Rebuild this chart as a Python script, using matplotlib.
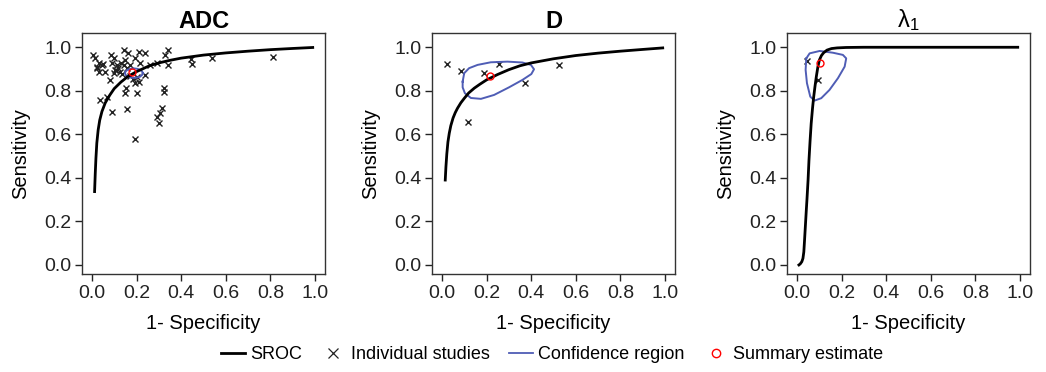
import numpy as np
import matplotlib
matplotlib.use('Agg')
import matplotlib.pyplot as plt
from matplotlib.lines import Line2D

plt.rcParams['font.family'] = ['Liberation Sans', 'DejaVu Sans']

# ---- data ----
titles = ['ADC', 'D', r'$\mathregular{\lambda_1}$']

# SROC curves
adc_sroc_x = [0.012, 0.015, 0.018, 0.022, 0.028, 0.035, 0.045, 0.06, 0.08, 0.10, 0.13, 0.16, 0.20,
              0.26, 0.30, 0.35, 0.40, 0.45, 0.50, 0.60, 0.70, 0.80, 0.90, 0.99]
adc_sroc_y = [0.337, 0.42, 0.49, 0.56, 0.62, 0.665, 0.705, 0.745, 0.78, 0.81, 0.84, 0.865, 0.888,
              0.916, 0.928, 0.94, 0.95, 0.957, 0.964, 0.974, 0.982, 0.989, 0.9945, 0.999]
d_sroc_x = [0.015, 0.018, 0.022, 0.027, 0.033, 0.04, 0.05, 0.06, 0.07, 0.085, 0.10, 0.12, 0.145,
            0.17, 0.20, 0.25, 0.30, 0.35, 0.40, 0.50, 0.60, 0.70, 0.80, 0.90, 0.99]
d_sroc_y = [0.39, 0.45, 0.51, 0.565, 0.605, 0.64, 0.675, 0.70, 0.72, 0.745, 0.765, 0.79, 0.812,
            0.83, 0.85, 0.875, 0.897, 0.915, 0.928, 0.947, 0.962, 0.973, 0.982, 0.99, 0.997]
l1_sroc_x = [0.009, 0.015, 0.022, 0.027, 0.031, 0.034, 0.038, 0.042, 0.045, 0.05, 0.054, 0.059,
             0.064, 0.07, 0.075, 0.081, 0.087, 0.094, 0.101, 0.11, 0.12, 0.135, 0.155, 0.18, 0.22,
             0.30, 0.50, 0.99]
l1_sroc_y = [0.0, 0.005, 0.015, 0.03, 0.06, 0.11, 0.18, 0.25, 0.30, 0.39, 0.48, 0.57,
             0.65, 0.72, 0.77, 0.82, 0.865, 0.91, 0.942, 0.962, 0.975, 0.987, 0.994, 0.997, 0.999,
             1.0, 1.0, 1.0]

# individual studies (1-specificity, sensitivity)
adc_fpr = [0.003, 0.015, 0.030, 0.022, 0.030, 0.049, 0.060, 0.079, 0.037, 0.067, 0.090, 0.085,
           0.097, 0.090, 0.112, 0.119, 0.104, 0.127, 0.142, 0.164, 0.149, 0.142, 0.157, 0.209,
           0.239, 0.194, 0.216, 0.239, 0.209, 0.194, 0.186, 0.154, 0.149, 0.157, 0.204, 0.194,
           0.261, 0.291, 0.328, 0.339, 0.339, 0.321, 0.324, 0.313, 0.306, 0.294, 0.303, 0.443,
           0.448, 0.539, 0.810, 0.134, 0.169, 0.201, 0.109, 0.097, 0.025, 0.045, 0.172, 0.130]
adc_tpr = [0.965, 0.949, 0.929, 0.903, 0.888, 0.923, 0.888, 0.850, 0.758, 0.770, 0.704, 0.965,
           0.949, 0.926, 0.919, 0.903, 0.896, 0.888, 0.988, 0.972, 0.942, 0.919, 0.903, 0.980,
           0.972, 0.949, 0.926, 0.873, 0.842, 0.835, 0.853, 0.812, 0.792, 0.715, 0.789, 0.579,
           0.919, 0.926, 0.965, 0.988, 0.919, 0.812, 0.796, 0.720, 0.697, 0.678, 0.651, 0.945,
           0.922, 0.949, 0.954, 0.877, 0.868, 0.862, 0.896, 0.881, 0.911, 0.919, 0.919, 0.927]
d_fpr = [0.025, 0.085, 0.190, 0.257, 0.118, 0.372, 0.525]
d_tpr = [0.922, 0.891, 0.881, 0.923, 0.658, 0.838, 0.919]
l1_fpr = [0.046, 0.094]
l1_tpr = [0.939, 0.850]

# summary estimates
summary_fpr = [0.179, 0.215, 0.102]
summary_tpr = [0.888, 0.868, 0.926]

# confidence regions (closed contours)
adc_cr_x = [0.228, 0.225, 0.216, 0.203, 0.188, 0.173, 0.160, 0.151, 0.148, 0.151, 0.160, 0.173,
            0.188, 0.203, 0.216, 0.225]
adc_cr_y = [0.881, 0.889, 0.897, 0.901, 0.903, 0.901, 0.897, 0.889, 0.881, 0.873, 0.865, 0.861,
            0.859, 0.861, 0.865, 0.873]
d_cr_x = [0.093, 0.100, 0.122, 0.160, 0.219, 0.294, 0.361, 0.399, 0.413, 0.401, 0.361, 0.301,
          0.234, 0.175, 0.130, 0.103, 0.093]
d_cr_y = [0.842, 0.881, 0.904, 0.919, 0.931, 0.934, 0.930, 0.919, 0.899, 0.877, 0.850, 0.816,
          0.781, 0.763, 0.767, 0.789, 0.816]
l1_cr_x = [0.042, 0.057, 0.102, 0.161, 0.206, 0.221, 0.214, 0.184, 0.146, 0.109, 0.079, 0.060,
           0.045, 0.039]
l1_cr_y = [0.949, 0.972, 0.983, 0.975, 0.965, 0.949, 0.911, 0.858, 0.804, 0.766, 0.755, 0.773,
           0.835, 0.896]

ticks = [0.0, 0.2, 0.4, 0.6, 0.8, 1.0]

panels = [
    (adc_sroc_x, adc_sroc_y, adc_fpr, adc_tpr, adc_cr_x, adc_cr_y),
    (d_sroc_x, d_sroc_y, d_fpr, d_tpr, d_cr_x, d_cr_y),
    (l1_sroc_x, l1_sroc_y, l1_fpr, l1_tpr, l1_cr_x, l1_cr_y),
]

blue = '#4f5db5'
fig = plt.figure(figsize=(10.46, 3.72), dpi=100)
lefts = [0.0787, 0.4133, 0.7527]

for i, (sx, sy, fx, fy, cx, cy) in enumerate(panels):
    ax = fig.add_axes([lefts[i], 0.2626, 0.2320, 0.6478])
    ax.plot(fx, fy, 'x', color='#222222', ms=5, mew=1.0, zorder=2)
    ax.plot(cx + cx[:1], cy + cy[:1], color=blue, lw=1.4, zorder=3)
    ax.plot(sx, sy, color='black', lw=2.0, zorder=4)
    ax.plot(summary_fpr[i], summary_tpr[i], 'o', mfc='none', mec='red', ms=5, mew=1.0, zorder=5)

    ax.set_xlim(-0.043, 1.045)
    ax.set_ylim(-0.043, 1.064)
    ax.set_xticks(ticks)
    ax.set_yticks(ticks)
    ax.set_xticklabels([f'{t:.1f}' for t in ticks])
    ax.set_yticklabels([f'{t:.1f}' for t in ticks])
    ax.tick_params(direction='out', length=5, width=1, labelsize=14, pad=3, colors='#222222')
    for s in ax.spines.values():
        s.set_linewidth(1.0)
        s.set_color('#333333')
    ax.set_xlabel('1- Specificity', fontsize=14.5, labelpad=8)
    ax.set_ylabel('Sensitivity', fontsize=14.5, labelpad=10)
    if i < 2:
        ax.set_title(titles[i], fontsize=17, fontweight='bold', pad=3)
    else:
        ax.set_title(titles[i], fontsize=17, pad=3)

handles = [
    Line2D([], [], color='black', lw=2.0),
    Line2D([], [], ls='none', marker='x', color='#222222', ms=7, mew=0.9),
    Line2D([], [], color=blue, lw=1.3),
    Line2D([], [], ls='none', marker='o', mfc='none', mec='red', ms=6, mew=1.0),
]
labels = ['SROC', 'Individual studies', 'Confidence region', 'Summary estimate']
fig.legend(handles, labels, loc='center', bbox_to_anchor=(0.528, 0.046), ncol=4, frameon=False,
           fontsize=13, handlelength=1.3, handletextpad=0.3, columnspacing=1.1)

fig.savefig('out.png', dpi=100)
